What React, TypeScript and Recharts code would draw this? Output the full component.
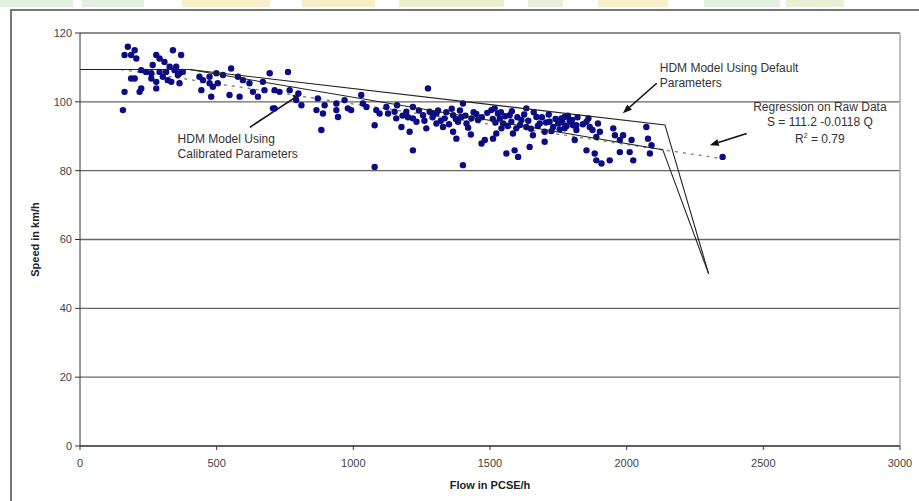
import { ScatterChart, Scatter, XAxis, YAxis, CartesianGrid, ReferenceLine, ReferenceDot } from 'recharts';

// observed flow (PCSE/h) / speed (km/h) pairs
const rawPoints: [number, number][] = [
  [175, 116.0], [200, 115.0], [163, 113.6], [206, 112.6], [187, 113.6], [279, 113.6], [291, 112.6],
  [340, 115.0], [370, 113.6], [309, 111.6], [266, 110.7], [328, 110.2], [352, 110.2], [224, 109.2],
  [242, 108.7], [261, 108.3], [291, 108.7], [315, 108.7], [346, 109.2], [364, 108.3], [376, 108.7],
  [187, 106.8], [200, 106.8], [261, 106.8], [303, 107.3], [321, 106.3], [358, 107.8], [279, 105.8],
  [334, 105.8], [364, 105.4], [224, 103.9], [279, 103.9], [163, 102.9], [218, 102.9], [157, 97.6],
  [437, 107.3], [450, 106.3], [474, 107.3], [499, 108.3], [553, 109.7], [474, 105.4], [486, 104.4],
  [444, 103.4], [504, 105.4], [523, 107.8], [578, 107.3], [596, 106.3], [620, 105.4], [547, 102.0],
  [480, 101.5], [584, 101.5], [633, 102.9], [651, 101.5], [675, 103.4], [694, 108.3], [669, 105.8],
  [712, 103.4], [712, 98.1], [761, 108.7], [730, 102.9], [767, 103.4], [799, 102.4], [706, 98.1],
  [810, 99.0], [791, 100.5], [870, 101.0], [895, 99.0], [865, 97.6], [889, 96.6], [883, 91.8],
  [938, 99.5], [938, 97.6], [944, 95.6], [968, 100.5], [980, 98.1], [992, 97.6], [1029, 102.0],
  [1035, 99.5], [1048, 98.5], [1084, 97.6], [1096, 96.6], [1078, 93.2], [1121, 98.5], [1127, 96.6],
  [1151, 97.1], [1157, 95.2], [1176, 92.7], [1194, 97.1], [1206, 91.3], [1218, 98.5], [1218, 95.2],
  [1231, 94.2], [1255, 96.1], [1273, 103.9], [1279, 97.1], [1267, 92.3], [1218, 85.9], [1078, 81.1],
  [1304, 96.6], [1401, 99.5], [1291, 96.6], [1304, 93.7], [1328, 92.7], [1334, 95.2], [1365, 96.1],
  [1365, 91.3], [1383, 94.2], [1395, 95.6], [1414, 93.7], [1432, 95.2], [1456, 94.7], [1377, 89.3],
  [1469, 87.9], [1481, 88.9], [1511, 89.3], [1523, 90.8], [1505, 97.6], [1517, 98.1], [1529, 96.6],
  [1536, 95.2], [1548, 93.7], [1542, 92.3], [1572, 96.1], [1578, 94.2], [1584, 90.8], [1596, 92.3],
  [1560, 85.0], [1590, 85.9], [1603, 84.0], [1615, 94.7], [1633, 98.1], [1633, 92.7], [1645, 86.9],
  [1657, 90.3], [1670, 95.6], [1682, 93.7], [1700, 91.3], [1700, 88.4], [1718, 94.2], [1731, 92.7],
  [1749, 93.7], [1761, 95.2], [1773, 92.3], [1792, 94.2], [1804, 93.2], [1816, 91.8], [1810, 88.9],
  [1401, 81.6], [1773, 95.6], [1792, 94.7], [1816, 93.2], [1853, 94.2], [1865, 92.7], [1895, 93.7],
  [1902, 91.3], [1889, 89.8], [1853, 85.9], [1883, 85.0], [1889, 83.0], [1908, 82.1], [1938, 83.0],
  [1951, 92.3], [1957, 90.3], [1975, 88.9], [1987, 90.3], [2011, 85.4], [2018, 88.9], [2024, 83.0],
  [1975, 85.4], [2072, 92.7], [2078, 89.3], [2091, 87.4], [2085, 85.0], [2351, 84.0],
  [1450, 96.5], [1470, 95.5], [1490, 96.8], [1510, 95.0], [1520, 94.0], [1540, 97.0], [1555, 95.8],
  [1565, 93.0], [1580, 97.3], [1600, 95.5], [1610, 93.3], [1625, 96.3], [1640, 94.5], [1650, 92.2],
  [1660, 97.0], [1675, 93.0], [1690, 95.5], [1705, 94.0], [1715, 96.3], [1725, 91.5], [1740, 95.0],
  [1755, 92.0], [1765, 94.0], [1780, 93.0], [1785, 96.0], [1800, 94.7], [1820, 95.5], [1840, 93.5],
  [1860, 95.2], [1875, 91.8], [1160, 99.0], [1180, 96.0], [1200, 95.5], [1240, 97.5], [1260, 94.5],
  [1290, 95.5], [1310, 97.5], [1320, 94.5], [1340, 97.0], [1350, 93.5], [1360, 98.0], [1375, 95.0],
  [1390, 97.5], [1410, 96.0], [1420, 92.5], [1440, 97.0], [1430, 90.5],
];

const defaultModel = [
  { flow: 0, speed: 109.4 },
  { flow: 400, speed: 109.4 },
  { flow: 2140, speed: 93.3 },
  { flow: 2300, speed: 50 },
];

const calibratedModel = [
  { flow: 0, speed: 109.4 },
  { flow: 400, speed: 109.4 },
  { flow: 2132, speed: 86.1 },
  { flow: 2300, speed: 50 },
];

const regression = [
  { flow: 150, speed: 109.4 },
  { flow: 2350, speed: 83.5 },
];

const xTicks = [0, 500, 1000, 1500, 2000, 2500, 3000];
const yTicks = [0, 20, 40, 60, 80, 100, 120];

const observed = rawPoints.map(([flow, speed]) => ({ flow, speed }));

const FONT = '"Liberation Sans", Arial, sans-serif';

const Dot = (p: any) => <circle cx={p.cx} cy={p.cy} r={3.2} fill="#0b0b86" />;
const NoDot = () => <g />;

const Arrow = (p: any) => {
  const { x1, y1, x2, y2 } = p;
  const a = Math.atan2(y2 - y1, x2 - x1);
  const len = 9;
  const w = 3.5;
  const bx = x2 - len * Math.cos(a);
  const by = y2 - len * Math.sin(a);
  const px = -Math.sin(a) * w;
  const py = Math.cos(a) * w;
  return (
    <g>
      <line x1={x1} y1={y1} x2={bx} y2={by} stroke="#111" strokeWidth={1.6} />
      <polygon points={`${x2},${y2} ${bx + px},${by + py} ${bx - px},${by - py}`} fill="#111" />
    </g>
  );
};

const note = (lines: string[], anchor: 'start' | 'middle' = 'start') => (p: any) => (
  <text x={p.cx} y={p.cy} textAnchor={anchor} fontFamily={FONT} fontSize={12} fill="#333">
    {lines.map((l, i) => (
      <tspan key={i} x={p.cx} dy={i === 0 ? 0 : 15}>{l}</tspan>
    ))}
  </text>
);

const regressionNote = (p: any) => (
  <text x={p.cx} y={p.cy} textAnchor="middle" fontFamily={FONT} fontSize={12} fill="#333">
    <tspan x={p.cx}>Regression on Raw Data</tspan>
    <tspan x={p.cx} dy={15}>S = 111.2 -0.0118 Q</tspan>
    <tspan x={p.cx} dy={17}>R</tspan>
    <tspan fontSize={7} dy={-5}>2</tspan>
    <tspan dy={5}> = 0.79</tspan>
  </text>
);

const xLabel = ({ viewBox }: any) => (
  <text x={viewBox.x + viewBox.width / 2} y={viewBox.y + 43} textAnchor="middle" fontFamily={FONT} fontSize={11} fontWeight="bold" fill="#222">
    Flow in PCSE/h
  </text>
);

const yLabel = ({ viewBox }: any) => {
  const cx = 39;
  const cy = viewBox.y + viewBox.height / 2;
  return (
    <text x={cx} y={cy} transform={`rotate(-90 ${cx} ${cy})`} textAnchor="middle" fontFamily={FONT} fontSize={11} fontWeight="bold" fill="#222">
      Speed in km/h
    </text>
  );
};

const strips: [number, number, string][] = [
  [0, 73, '#e2efe1'], [82, 144, '#e2efe1'], [182, 270, '#f7f0c8'], [302, 375, '#f5efc6'],
  [399, 504, '#eef0cc'], [528, 563, '#e6eee0'], [598, 668, '#f7f0cb'], [704, 780, '#e2efe1'], [786, 844, '#e8f0d6'],
];

export default function App() {
  return (
    <div style={{ position: 'absolute', left: 0, top: 0, width: 919, height: 501, background: '#fff', overflow: 'hidden' }}>
      {strips.map(([a, b, c], i) => (
        <div key={i} style={{ position: 'absolute', left: a, top: 0, width: b - a, height: 7, background: c }} />
      ))}
      <div style={{ position: 'absolute', left: 10, top: 9, width: 920, height: 500, borderTop: '2px solid #777', borderLeft: '2px solid #777' }} />
      <div style={{ position: 'absolute', left: 0, top: 0 }}>
        <ScatterChart width={919} height={501} margin={{ top: 33, right: 19, bottom: 15, left: 0 }}>
          <CartesianGrid vertical={false} stroke="#666" strokeWidth={1.3} horizontalValues={yTicks} />
          <XAxis
            type="number"
            dataKey="flow"
            domain={[0, 3000]}
            ticks={xTicks}
            height={40}
            tickSize={4}
            tickMargin={9}
            stroke="#333"
            tick={{ fontFamily: FONT, fontSize: 11, fill: '#444' }}
            label={xLabel}
          />
          <YAxis
            type="number"
            dataKey="speed"
            domain={[0, 120]}
            ticks={yTicks}
            width={80}
            tickSize={5}
            tickMargin={3}
            stroke="#333"
            tick={{ fontFamily: FONT, fontSize: 11, fill: '#444' }}
            label={yLabel}
          />
          <ReferenceLine x={3000} stroke="#aaa" strokeWidth={1.5} />
          <Scatter data={regression} isAnimationActive={false} shape={NoDot}
            line={{ stroke: '#8c8c70', strokeWidth: 1.5, strokeDasharray: '3 5' }} />
          <Scatter data={observed} isAnimationActive={false} shape={Dot} />
          <Scatter data={defaultModel} isAnimationActive={false} shape={NoDot}
            line={{ stroke: '#222', strokeWidth: 1.1 }} />
          <Scatter data={calibratedModel} isAnimationActive={false} shape={NoDot}
            line={{ stroke: '#222', strokeWidth: 1.1 }} />
          <ReferenceLine segment={[{ x: 2110, y: 105.4 }, { x: 1986, y: 96.7 }]} shape={Arrow} />
          <ReferenceLine segment={[{ x: 2439, y: 90.8 }, { x: 2304, y: 87.4 }]} shape={Arrow} />
          <ReferenceLine segment={[{ x: 621, y: 92.6 }, { x: 811, y: 102.5 }]} shape={Arrow} />
          <ReferenceDot x={2121} y={108.7} r={0} shape={note(['HDM Model Using Default', 'Parameters'])} />
          <ReferenceDot x={2707} y={97.4} r={0} shape={regressionNote} />
          <ReferenceDot x={357} y={87.9} r={0} shape={note(['HDM Model Using', 'Calibrated Parameters'])} />
        </ScatterChart>
      </div>
    </div>
  );
}
